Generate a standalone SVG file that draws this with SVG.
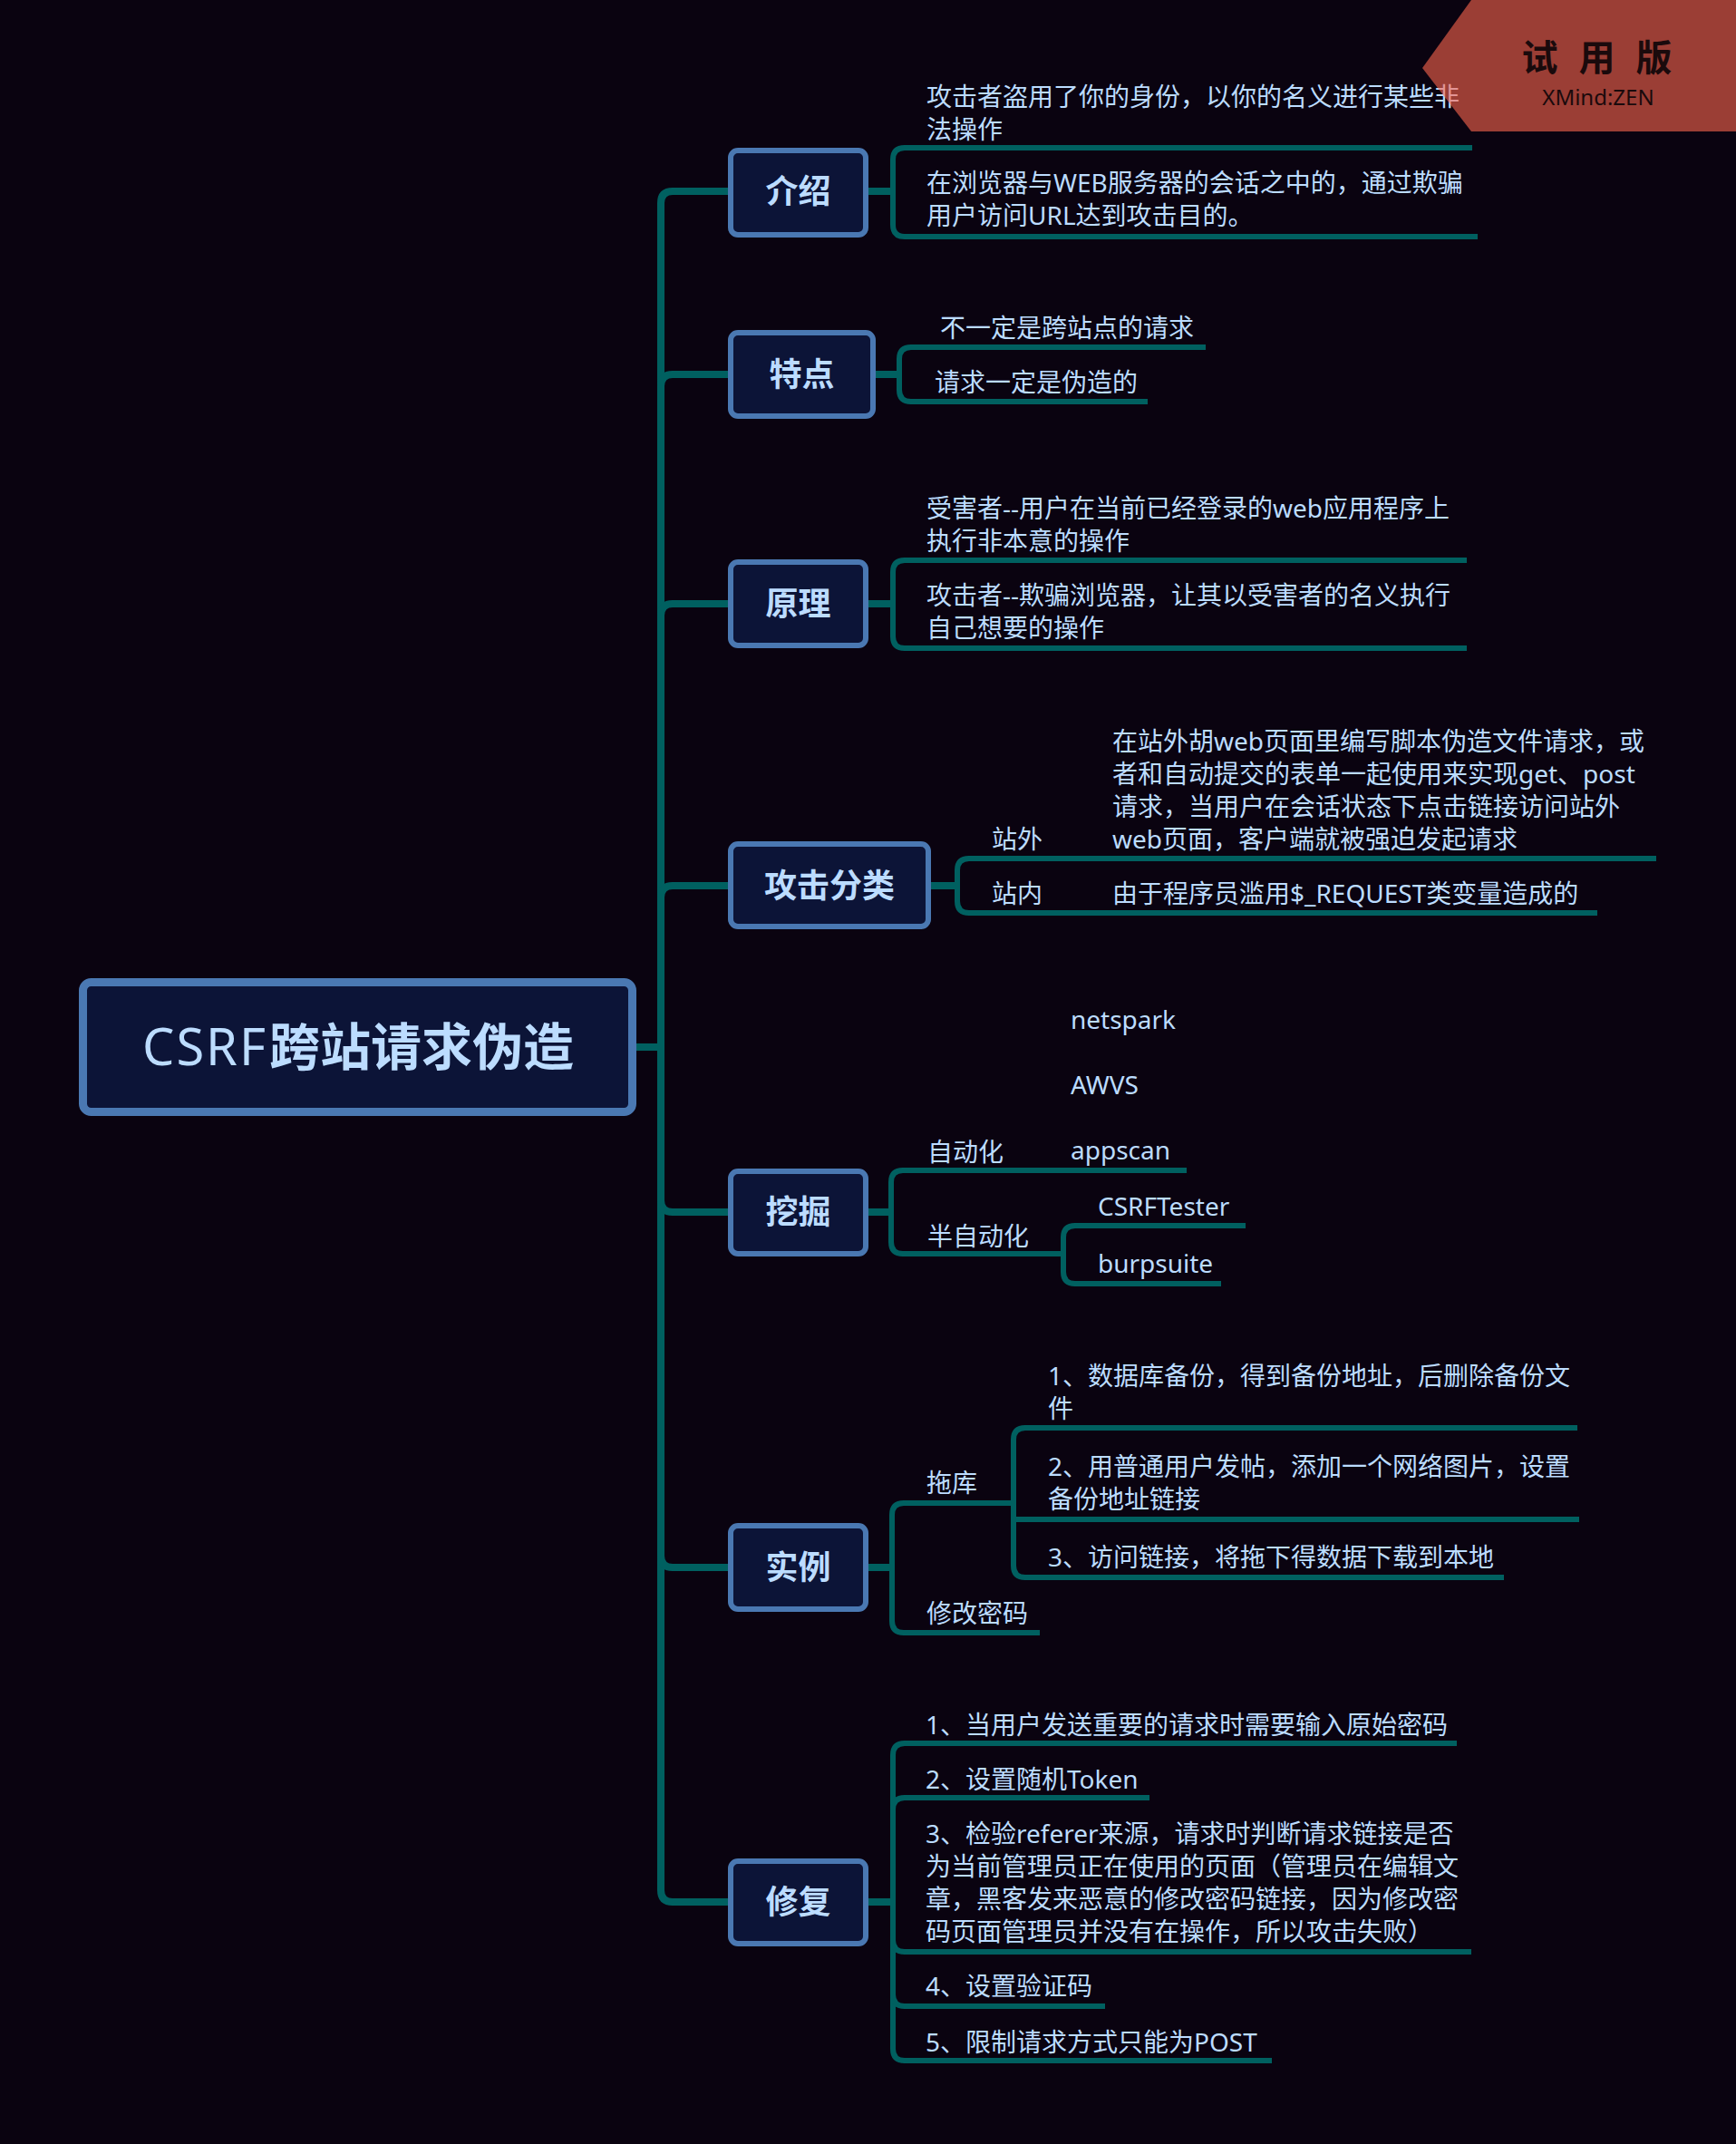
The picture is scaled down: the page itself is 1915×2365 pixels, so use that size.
<svg xmlns="http://www.w3.org/2000/svg" width="1915" height="2365" viewBox="0 0 1915 2365">
<style>
.t{font-family:"Noto Sans","Noto Sans CJK SC",sans-serif;font-size:28px;fill:#bcdcff}
.n{font-family:"Noto Sans","Noto Sans CJK SC",sans-serif;font-size:36px;font-weight:bold;fill:#bcdcff;text-anchor:middle}
.box{fill:#0c1437;stroke:#4a78b2;stroke-width:6}
.sp{fill:none;stroke:#006060;stroke-width:8}
.c{fill:none;stroke:#006060;stroke-width:6}
</style>
<rect x="0" y="0" width="1915" height="2365" fill="#0a0310"/>

<g id="connectors">
  <!-- main spine -->
  <path class="sp" d="M702,1155 H729"/>
  <path class="sp" d="M806,211 H742 Q729,211 729,224 V2085 Q729,2098 742,2098 H806"/>
  <path class="sp" d="M729,426 Q729,413 742,413 H806"/>
  <path class="sp" d="M729,679 Q729,666 742,666 H806"/>
  <path class="sp" d="M729,990 Q729,977 742,977 H806"/>
  <path class="sp" d="M729,1324 Q729,1337 742,1337 H806"/>
  <path class="sp" d="M729,1716 Q729,1729 742,1729 H806"/>
  <!-- 介绍 -->
  <path class="sp" d="M955,211 H985"/>
  <path class="c" d="M1624,163 H998 Q985,163 985,176 V248 Q985,261 998,261 H1630"/>
  <!-- 特点 -->
  <path class="sp" d="M963,413 H992"/>
  <path class="c" d="M1330,383 H1005 Q992,383 992,396 V430 Q992,443 1005,443 H1266"/>
  <!-- 原理 -->
  <path class="sp" d="M955,666 H985"/>
  <path class="c" d="M1618,618 H998 Q985,618 985,631 V702 Q985,715 998,715 H1618"/>
  <!-- 攻击分类 -->
  <path class="sp" d="M1024,977 H1056"/>
  <path class="c" d="M1827,947 H1069 Q1056,947 1056,960 V994 Q1056,1007 1069,1007 H1762"/>
  <!-- 挖掘 -->
  <path class="sp" d="M955,1337 H983"/>
  <path class="c" d="M1309,1291 H996 Q983,1291 983,1304 V1370 Q983,1383 996,1383 H1173"/>
  <path class="c" d="M1374,1352 H1186 Q1173,1352 1173,1365 V1403 Q1173,1416 1186,1416 H1347"/>
  <!-- 实例 -->
  <path class="sp" d="M955,1729 H984"/>
  <path class="c" d="M1118,1658 H997 Q984,1658 984,1671 V1788 Q984,1801 997,1801 H1147"/>
  <path class="c" d="M1740,1575 H1131 Q1118,1575 1118,1588 V1727 Q1118,1740 1131,1740 H1659"/>
  <path class="c" d="M1118,1676 H1742"/>
  <!-- 修复 -->
  <path class="sp" d="M955,2098 H985"/>
  <path class="c" d="M1607,1923 H998 Q985,1923 985,1936 V2260 Q985,2273 998,2273 H1403"/>
  <path class="c" d="M985,1996 Q985,1983 998,1983 H1268"/>
  <path class="c" d="M985,2140 Q985,2153 998,2153 H1623"/>
  <path class="c" d="M985,2200 Q985,2213 998,2213 H1219"/>
</g>

<g id="root">
  <rect x="91.5" y="1083.5" width="606" height="143" rx="9" fill="#0c1437" stroke="#4a78b2" stroke-width="9"/>
  <text y="1175" style="font-family:'Noto Sans','Noto Sans CJK SC',sans-serif;font-size:56px;fill:#bcdcff"><tspan x="157" textLength="136" lengthAdjust="spacing">CSRF</tspan><tspan x="297" font-weight="bold" textLength="336" lengthAdjust="spacingAndGlyphs">跨站请求伪造</tspan></text>
</g>

<g id="n-jieshao">
  <rect class="box" x="806" y="166" width="149" height="93" rx="8"/>
  <text class="n" x="880.5" y="224">介绍</text>
</g>
<g id="n-jieshao-1">
  <text class="t" x="1022" y="117">攻击者盗用了你的身份，以你的名义进行某些非</text>
  <text class="t" x="1022" y="153">法操作</text>
</g>
<g id="n-jieshao-2">
  <text class="t" x="1022" y="212">在浏览器与WEB服务器的会话之中的，通过欺骗</text>
  <text class="t" x="1022" y="248">用户访问URL达到攻击目的。</text>
</g>

<g id="n-tedian">
  <rect class="box" x="806" y="367" width="157" height="92" rx="8"/>
  <text class="n" x="884.5" y="426">特点</text>
</g>
<g id="n-tedian-1"><text class="t" x="1037" y="372">不一定是跨站点的请求</text></g>
<g id="n-tedian-2"><text class="t" x="1031" y="432">请求一定是伪造的</text></g>

<g id="n-yuanli">
  <rect class="box" x="806" y="620" width="149" height="92" rx="8"/>
  <text class="n" x="880.5" y="679">原理</text>
</g>
<g id="n-yuanli-1">
  <text class="t" x="1022" y="571">受害者--用户在当前已经登录的web应用程序上</text>
  <text class="t" x="1022" y="607">执行非本意的操作</text>
</g>
<g id="n-yuanli-2">
  <text class="t" x="1022" y="667">攻击者--欺骗浏览器，让其以受害者的名义执行</text>
  <text class="t" x="1022" y="703">自己想要的操作</text>
</g>

<g id="n-fenlei">
  <rect class="box" x="806" y="931" width="218" height="91" rx="8"/>
  <text class="n" x="915" y="990">攻击分类</text>
</g>
<g id="n-zhanwai"><text class="t" x="1094" y="936">站外</text></g>
<g id="n-zhanwai-1">
  <text class="t" x="1227" y="828">在站外胡web页面里编写脚本伪造文件请求，或</text>
  <text class="t" x="1227" y="864">者和自动提交的表单一起使用来实现get、post</text>
  <text class="t" x="1227" y="900">请求，当用户在会话状态下点击链接访问站外</text>
  <text class="t" x="1227" y="936">web页面，客户端就被强迫发起请求</text>
</g>
<g id="n-zhannei"><text class="t" x="1094" y="996">站内</text></g>
<g id="n-zhannei-1"><text class="t" x="1227" y="996">由于程序员滥用$_REQUEST类变量造成的</text></g>

<g id="n-wajue">
  <rect class="box" x="806" y="1292" width="149" height="91" rx="8"/>
  <text class="n" x="880.5" y="1350">挖掘</text>
</g>
<g id="n-zidonghua"><text class="t" x="1023" y="1281">自动化</text></g>
<g id="n-netspark"><text class="t" x="1181" y="1135">netspark</text></g>
<g id="n-awvs"><text class="t" x="1181" y="1207">AWVS</text></g>
<g id="n-appscan"><text class="t" x="1181" y="1279">appscan</text></g>
<g id="n-banzidonghua"><text class="t" x="1023" y="1374">半自动化</text></g>
<g id="n-csrftester"><text class="t" x="1211" y="1341">CSRFTester</text></g>
<g id="n-burpsuite"><text class="t" x="1211" y="1404">burpsuite</text></g>

<g id="n-shili">
  <rect class="box" x="806" y="1683" width="149" height="92" rx="8"/>
  <text class="n" x="880.5" y="1742">实例</text>
</g>
<g id="n-tuoku"><text class="t" x="1022" y="1646">拖库</text></g>
<g id="n-tuoku-1">
  <text class="t" x="1156" y="1528">1、数据库备份，得到备份地址，后删除备份文</text>
  <text class="t" x="1156" y="1564">件</text>
</g>
<g id="n-tuoku-2">
  <text class="t" x="1156" y="1628">2、用普通用户发帖，添加一个网络图片，设置</text>
  <text class="t" x="1156" y="1664">备份地址链接</text>
</g>
<g id="n-tuoku-3"><text class="t" x="1156" y="1728">3、访问链接，将拖下得数据下载到本地</text></g>
<g id="n-xiugaimima"><text class="t" x="1022" y="1790">修改密码</text></g>

<g id="n-xiufu">
  <rect class="box" x="806" y="2053" width="149" height="91" rx="8"/>
  <text class="n" x="880.5" y="2111">修复</text>
</g>
<g id="n-xiufu-1"><text class="t" x="1021" y="1913">1、当用户发送重要的请求时需要输入原始密码</text></g>
<g id="n-xiufu-2"><text class="t" x="1021" y="1973">2、设置随机Token</text></g>
<g id="n-xiufu-3">
  <text class="t" x="1021" y="2033">3、检验referer来源，请求时判断请求链接是否</text>
  <text class="t" x="1021" y="2069">为当前管理员正在使用的页面（管理员在编辑文</text>
  <text class="t" x="1021" y="2105">章，黑客发来恶意的修改密码链接，因为修改密</text>
  <text class="t" x="1021" y="2141">码页面管理员并没有在操作，所以攻击失败）</text>
</g>
<g id="n-xiufu-4"><text class="t" x="1021" y="2201">4、设置验证码</text></g>
<g id="n-xiufu-5"><text class="t" x="1021" y="2263">5、限制请求方式只能为POST</text></g>

<g id="badge">
  <polygon points="1623,0 1915,0 1915,145 1623,145 1569,75" fill="#fc654f" fill-opacity="0.6"/>
  <text x="1765" y="78" text-anchor="middle" style="font-family:'Noto Sans CJK SC',sans-serif;font-size:40px;font-weight:bold;fill:#1a0a0c;letter-spacing:7px">试 用 版</text>
  <text x="1763" y="116" text-anchor="middle" style="font-family:'Noto Sans',sans-serif;font-size:24px;fill:#1a0a0c">XMind:ZEN</text>
</g>
</svg>
